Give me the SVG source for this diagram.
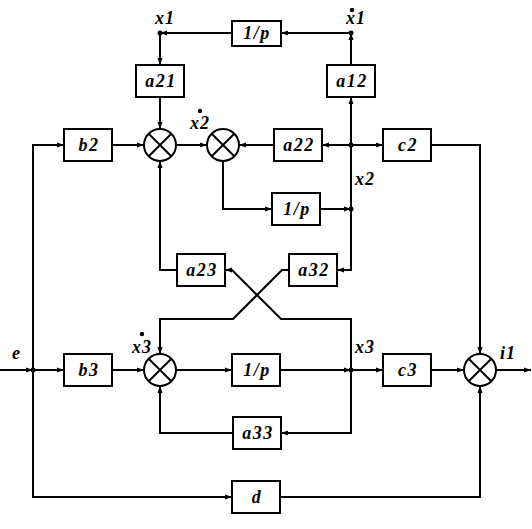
<svg xmlns="http://www.w3.org/2000/svg" width="532" height="529" viewBox="0 0 532 529">
<style>
.box{fill:#fff;stroke:#000;stroke-width:2}
.sum{fill:#fff;stroke:#000;stroke-width:2}
.x{stroke:#000;stroke-width:2}
.t{font-family:"Liberation Serif",serif;font-weight:bold;font-style:italic;font-size:18px;letter-spacing:1.5px;fill:#000;text-anchor:middle}
.lb{font-family:"Liberation Serif",serif;font-weight:bold;font-style:italic;font-size:18px;letter-spacing:1px;fill:#000}
.c{fill:none;stroke:#000;stroke-width:2}
</style>
<defs>
<marker id="a" markerUnits="userSpaceOnUse" markerWidth="8" markerHeight="6" refX="7" refY="3" orient="auto">
<path d="M0,0.5 L7,3 L0,5.5 z" fill="#000"/>
</marker>
</defs>
<rect width="532" height="529" fill="#fff"/>
<g id="connectors">
<path class="c" d="M351,33 H281" marker-end="url(#a)"/>
<path class="c" d="M232,33 H160" marker-end="url(#a)"/>
<path class="c" d="M160,33 V65" marker-end="url(#a)"/>
<path class="c" d="M160,97 V129" marker-end="url(#a)"/>
<path class="c" d="M351,65 V33" marker-end="url(#a)"/>
<path class="c" d="M351,145 V97" marker-end="url(#a)"/>
<path class="c" d="M0,370 H33" marker-end="url(#a)"/>
<path class="c" d="M33,370 H64" marker-end="url(#a)"/>
<path class="c" d="M33,370 V145 H64" marker-end="url(#a)"/>
<path class="c" d="M33,370 V497 H232" marker-end="url(#a)"/>
<path class="c" d="M112,145 H144" marker-end="url(#a)"/>
<path class="c" d="M176,145 H207" marker-end="url(#a)"/>
<path class="c" d="M274,145 H239" marker-end="url(#a)"/>
<path class="c" d="M351,145 H322" marker-end="url(#a)"/>
<path class="c" d="M351,145 H383" marker-end="url(#a)"/>
<path class="c" d="M431,145 H480 V354" marker-end="url(#a)"/>
<path class="c" d="M223,161 V209 H272" marker-end="url(#a)"/>
<path class="c" d="M320,209 H351" marker-end="url(#a)"/>
<path class="c" d="M351,209 V145"/>
<path class="c" d="M351,209 V270 H337" marker-end="url(#a)"/>
<path class="c" d="M177,270 H160 V161" marker-end="url(#a)"/>
<path class="c" d="M289,270 H282 L233,319 H160 V354" marker-end="url(#a)"/>
<path class="c" d="M351,370 V319 H281 L232,270 H225" marker-end="url(#a)"/>
<path class="c" d="M112,370 H144" marker-end="url(#a)"/>
<path class="c" d="M176,370 H232" marker-end="url(#a)"/>
<path class="c" d="M280,370 H351" marker-end="url(#a)"/>
<path class="c" d="M351,370 H383" marker-end="url(#a)"/>
<path class="c" d="M431,370 H464" marker-end="url(#a)"/>
<path class="c" d="M496,370 H531" marker-end="url(#a)"/>
<path class="c" d="M351,370 V433 H281" marker-end="url(#a)"/>
<path class="c" d="M233,433 H160 V386" marker-end="url(#a)"/>
<path class="c" d="M280,497 H480 V386" marker-end="url(#a)"/>
<g fill="#000">
<circle cx="160" cy="33" r="2.5"/>
<circle cx="351" cy="33" r="2.5"/>
<circle cx="351" cy="145" r="2.5"/>
<circle cx="351" cy="209" r="2.5"/>
<circle cx="33" cy="370" r="2.5"/>
<circle cx="351" cy="370" r="2.5"/>
</g>
</g>
<g id="p1"><rect class="box" x="232" y="21" width="49" height="25"/><text class="t" x="257" y="39">1/p</text></g>
<g id="a21"><rect class="box" x="136" y="65" width="48" height="32"/><text class="t" x="161" y="87">a21</text></g>
<g id="a12"><rect class="box" x="327" y="65" width="48" height="32"/><text class="t" x="352" y="87">a12</text></g>
<g id="b2"><rect class="box" x="64" y="129" width="48" height="32"/><text class="t" x="89" y="151">b2</text></g>
<g id="a22"><rect class="box" x="274" y="129" width="48" height="32"/><text class="t" x="299" y="151">a22</text></g>
<g id="c2"><rect class="box" x="383" y="129" width="48" height="32"/><text class="t" x="408" y="151">c2</text></g>
<g id="p2"><rect class="box" x="272" y="193" width="48" height="32"/><text class="t" x="297" y="215">1/p</text></g>
<g id="a23"><rect class="box" x="177" y="254" width="48" height="32"/><text class="t" x="202" y="276">a23</text></g>
<g id="a32"><rect class="box" x="289" y="254" width="48" height="32"/><text class="t" x="314" y="276">a32</text></g>
<g id="b3"><rect class="box" x="64" y="354" width="48" height="32"/><text class="t" x="89" y="376">b3</text></g>
<g id="p3"><rect class="box" x="232" y="354" width="48" height="32"/><text class="t" x="257" y="376">1/p</text></g>
<g id="c3"><rect class="box" x="383" y="354" width="48" height="32"/><text class="t" x="408" y="376">c3</text></g>
<g id="a33"><rect class="box" x="233" y="417" width="48" height="32"/><text class="t" x="258" y="439">a33</text></g>
<g id="d"><rect class="box" x="232" y="481" width="48" height="32"/><text class="t" x="257" y="503">d</text></g>
<g id="sum1"><circle class="sum" cx="160" cy="145" r="16"/><path class="x" d="M148.7,133.7 L171.3,156.3 M171.3,133.7 L148.7,156.3"/></g>
<g id="sum2"><circle class="sum" cx="223" cy="145" r="16"/><path class="x" d="M211.7,133.7 L234.3,156.3 M234.3,133.7 L211.7,156.3"/></g>
<g id="sum3"><circle class="sum" cx="160" cy="370" r="16"/><path class="x" d="M148.7,358.7 L171.3,381.3 M171.3,358.7 L148.7,381.3"/></g>
<g id="sum4"><circle class="sum" cx="480" cy="370" r="16"/><path class="x" d="M468.7,358.7 L491.3,381.3 M491.3,358.7 L468.7,381.3"/></g>
<g id="labels">
<text class="lb" x="155" y="24">x1</text>
<text class="lb" x="346" y="24">x1</text><circle cx="352" cy="10" r="2.2"/>
<text class="lb" x="190" y="129">x2</text><circle cx="200" cy="111" r="2.2"/>
<text class="lb" x="355" y="185">x2</text>
<text class="lb" x="12" y="359">e</text>
<text class="lb" x="132" y="353">x3</text><circle cx="142" cy="334" r="2.2"/>
<text class="lb" x="355" y="353">x3</text>
<text class="lb" x="500" y="359">i1</text>
</g>
</svg>
